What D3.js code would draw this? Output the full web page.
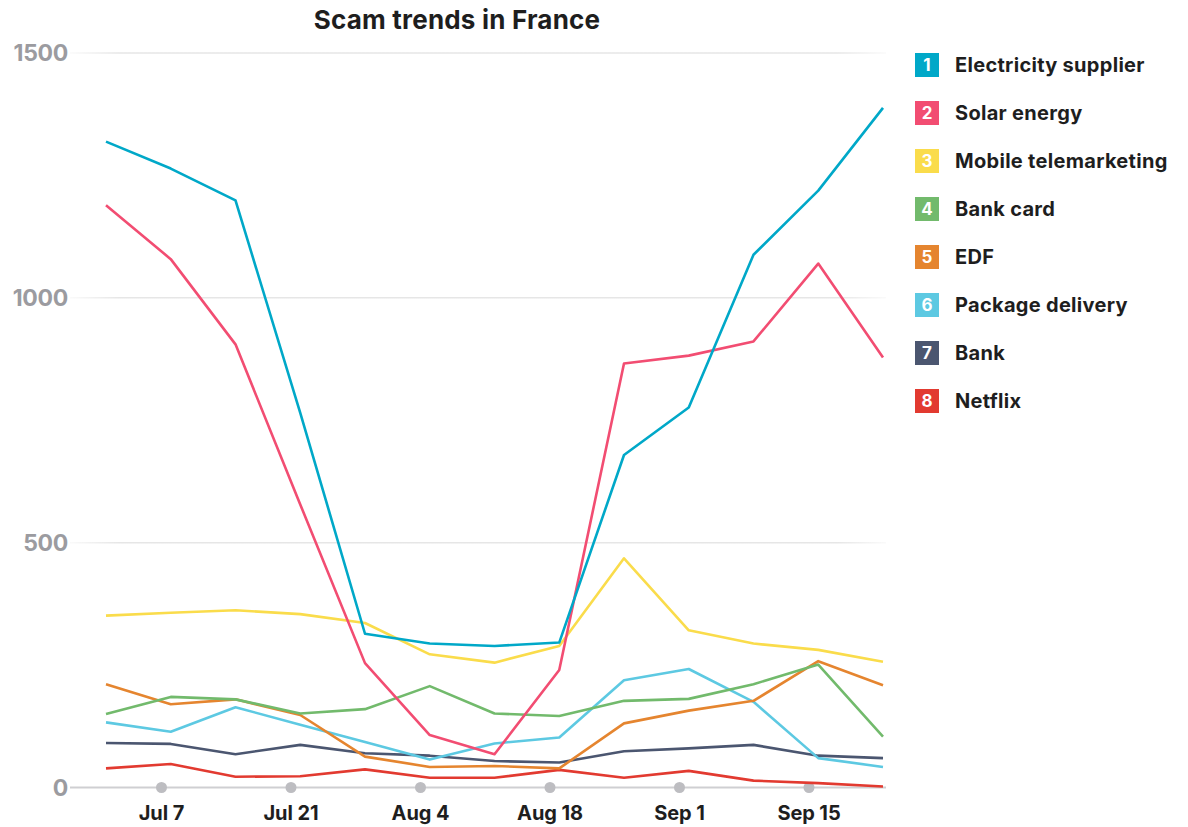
<!DOCTYPE html>
<html>
<head>
<meta charset="utf-8">
<script src="https://cdn.jsdelivr.net/npm/d3@7"></script>
<style>
  html, body { margin: 0; padding: 0; background: #fff; }
  svg { display: block; font-family: Inter, Roboto, "Liberation Sans", sans-serif; }
</style>
</head>
<body>
<div id="chart"></div>
<script>
"use strict";
// weekly counts, Jul 1 .. Sep 23
var weeks = ["2024-07-01", "2024-07-08", "2024-07-15", "2024-07-22", "2024-07-29", "2024-08-05",
  "2024-08-12", "2024-08-19", "2024-08-26", "2024-09-02", "2024-09-09", "2024-09-16", "2024-09-23"];
var seriesNames = ["Electricity supplier", "Solar energy", "Mobile telemarketing", "Bank card",
  "EDF", "Package delivery", "Bank", "Netflix"];
var electricity = [1319, 1264, 1199, 765, 314, 294, 289, 296, 679, 776, 1088, 1219, 1388];
var solar = [1189, 1079, 905, 578, 254, 107, 68, 240, 866, 882, 911, 1070, 878];
var mobile = [351, 357, 362, 354, 336, 272, 255, 289, 468, 321, 294, 281, 257];
var bankCard = [150, 185, 180, 151, 160, 207, 151, 146, 177, 181, 211, 251, 104];
var edf = [211, 170, 180, 148, 63, 42, 44, 39, 131, 157, 177, 258, 209];
var packageDelivery = [133, 114, 164, 128, 93, 57, 90, 102, 219, 242, 175, 60, 42];
var bank = [91, 89, 68, 87, 70, 65, 54, 51, 74, 80, 87, 65, 60];
var netflix = [39, 48, 22, 23, 37, 20, 20, 36, 20, 34, 14, 9, 2];
var xTicks = ["2024-07-07", "2024-07-21", "2024-08-04", "2024-08-18", "2024-09-01", "2024-09-15"];
var yTicks = [0, 500, 1000, 1500];

var colors = ["#00a8c8", "#f24d72", "#fadc4b", "#72ba6c", "#e5852f", "#5dc9e2", "#4b5670", "#e23a30"];
var allValues = [electricity, solar, mobile, bankCard, edf, packageDelivery, bank, netflix];

var parse = d3.timeParse("%Y-%m-%d");
var dates = weeks.map(parse);
var series = seriesNames.map(function (name, i) {
  return { name: name, color: colors[i], values: allValues[i].map(function (v, j) { return { date: dates[j], value: v }; }) };
});

var width = 1188, height = 827;
var svg = d3.select("#chart").append("svg").attr("width", width).attr("height", height);

var x = d3.scaleTime().domain([dates[0], dates[dates.length - 1]]).range([106, 883]);
var y = d3.scaleLinear().domain([0, 1500]).range([787.5, 53]);

var defs = svg.append("defs");
var grad = defs.append("linearGradient").attr("id", "gridFade")
  .attr("gradientUnits", "userSpaceOnUse").attr("x1", 70).attr("x2", 886);
grad.append("stop").attr("offset", 0).attr("stop-color", "#e6e6e6").attr("stop-opacity", 0.2);
grad.append("stop").attr("offset", 0.06).attr("stop-color", "#e6e6e6").attr("stop-opacity", 1);
grad.append("stop").attr("offset", 0.94).attr("stop-color", "#e6e6e6").attr("stop-opacity", 1);
grad.append("stop").attr("offset", 1).attr("stop-color", "#e6e6e6").attr("stop-opacity", 0.2);

// title
svg.append("text").attr("x", 457).attr("y", 29).attr("text-anchor", "middle")
  .style("font-size", "26px").style("font-weight", 700).style("fill", "#1e1e1e")
  .style("letter-spacing", "0.2px")
  .text("Scam trends in France");

// y gridlines + labels
var yAxis = svg.append("g").attr("class", "y-axis");
yAxis.selectAll("line").data(yTicks.filter(function (t) { return t > 0; })).enter().append("line")
  .attr("x1", 70).attr("x2", 886)
  .attr("y1", function (d) { return y(d); }).attr("y2", function (d) { return y(d); })
  .style("stroke", "url(#gridFade)").style("stroke-width", 1.5);
yAxis.selectAll("text").data(yTicks).enter().append("text")
  .attr("x", 68).attr("y", function (d) { return y(d); }).attr("dy", "0.35em")
  .attr("text-anchor", "end")
  .style("font-size", "23px").style("font-weight", 700).style("fill", "#9b9ba0")
  .style("letter-spacing", "-0.3px")
  .text(function (d) { return d; });

// x axis line with dots
var xAxis = svg.append("g").attr("class", "x-axis");
xAxis.append("line").attr("x1", 70).attr("x2", 886).attr("y1", y(0)).attr("y2", y(0))
  .style("stroke", "#cfcfd2").style("stroke-width", 2);
var tickDates = xTicks.map(parse);
xAxis.selectAll("circle").data(tickDates).enter().append("circle")
  .attr("cx", function (d) { return x(d); }).attr("cy", y(0)).attr("r", 5.5)
  .style("fill", "#bdbdc1");
xAxis.selectAll("text").data(tickDates).enter().append("text")
  .attr("x", function (d) { return x(d); }).attr("y", 820)
  .attr("text-anchor", "middle")
  .style("font-size", "20px").style("font-weight", 700).style("fill", "#1e1e1e")
  .style("letter-spacing", "-0.1px")
  .text(d3.timeFormat("%b %-d"));

// lines, first series on top
var line = d3.line().x(function (d) { return x(d.date); }).y(function (d) { return y(d.value); });
svg.append("g").attr("class", "lines")
  .selectAll("path").data(series.slice().reverse()).enter().append("path")
  .attr("d", function (s) { return line(s.values); })
  .style("fill", "none").style("stroke", function (s) { return s.color; })
  .style("stroke-width", 2.6).style("stroke-linejoin", "round");

// legend
var legend = svg.append("g").attr("class", "legend")
  .selectAll("g").data(series).enter().append("g")
  .attr("transform", function (s, i) { return "translate(915," + (53 + i * 48) + ")"; });
legend.append("rect").attr("width", 24).attr("height", 24)
  .style("fill", function (s) { return s.color; });
legend.append("text").attr("x", 12).attr("y", 12).attr("dy", "0.36em").attr("text-anchor", "middle")
  .style("font-size", "17px").style("font-weight", 700).style("fill", "#fff")
  .text(function (s, i) { return i + 1; });
legend.append("text").attr("x", 40).attr("y", 12).attr("dy", "0.36em")
  .style("font-size", "20px").style("font-weight", 700).style("fill", "#1e1e1e")
  .style("letter-spacing", "0.3px")
  .text(function (s) { return s.name; });
</script>
</body>
</html>
